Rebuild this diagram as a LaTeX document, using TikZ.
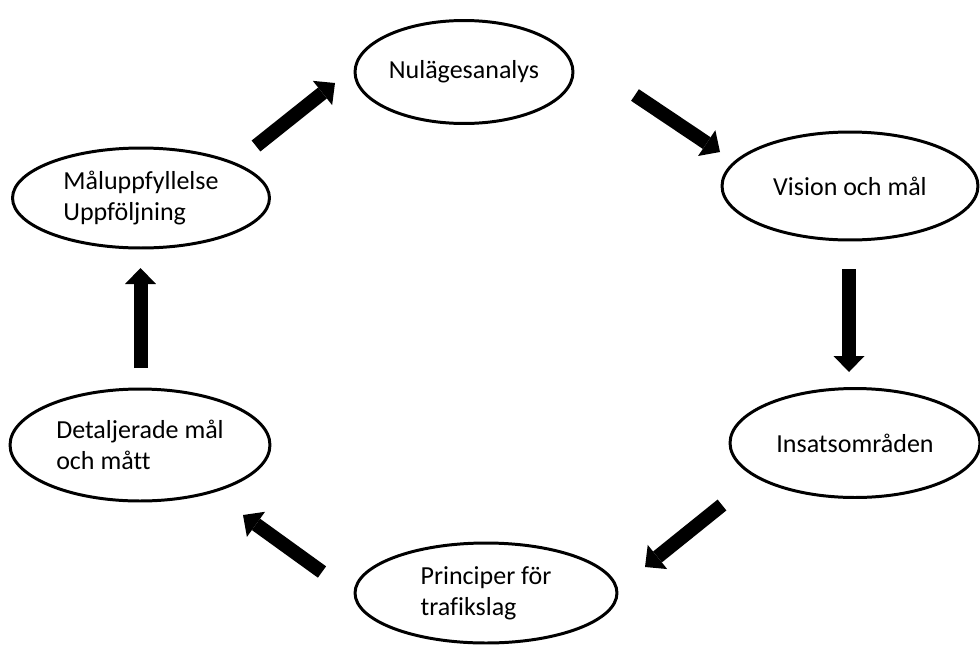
\documentclass[tikz,border=0pt]{standalone}
\usepackage{fontspec}
\setmainfont{Carlito}[Ligatures=NoCommon]
\usetikzlibrary{shapes.geometric,arrows.meta}

\begin{document}
\begin{tikzpicture}[
  x=0.02cm, y=-0.02cm,
  phase/.style={ellipse, draw, line width=1.7pt, inner sep=0pt, align=left,
                font=\fontsize{14.8pt}{17.5pt}\selectfont},
  flow/.style={draw, line width=0.28cm,
               -{Triangle[width=0.62cm, length=0.32cm, line width=0pt]}},
]
  \useasboundingbox (0,0) rectangle (980,646);

  \node[phase, minimum width=4.36cm, minimum height=2.06cm] (nul) at (464,72) {Nulägesanalys};
  \node[phase, minimum width=5.12cm, minimum height=2.16cm] (vis) at (850,186) {Vision och mål};
  \node[phase, minimum width=5.0cm, minimum height=2.18cm] (ins) at (855,443) {Insatsområden};
  \node[phase, minimum width=5.24cm, minimum height=2.0cm] (pri) at (486,593) {Principer för\\trafikslag};
  \node[phase, minimum width=5.2cm, minimum height=2.24cm] (det) at (140,445) {Detaljerade mål\\och mått};
  \node[phase, minimum width=5.14cm, minimum height=2.0cm] (mal) at (141,198) {Måluppfyllelse\\Uppföljning};

  % arrow ends between the phases
  \coordinate (mal-out) at (256,146);
  \coordinate (nul-in) at (335,83);
  \coordinate (nul-out) at (635,95);
  \coordinate (vis-in) at (720,152);
  \coordinate (vis-out) at (849,269);
  \coordinate (ins-in) at (849,372);
  \coordinate (ins-out) at (722,505);
  \coordinate (pri-in) at (645,567);
  \coordinate (pri-out) at (322,572);
  \coordinate (det-in) at (243,515);
  \coordinate (det-out) at (140.5,368);
  \coordinate (mal-in) at (140.5,268);

  \draw[flow] (mal-out) -- (nul-in);
  \draw[flow] (nul-out) -- (vis-in);
  \draw[flow] (vis-out) -- (ins-in);
  \draw[flow] (ins-out) -- (pri-in);
  \draw[flow] (pri-out) -- (det-in);
  \draw[flow] (det-out) -- (mal-in);
\end{tikzpicture}
\end{document}
